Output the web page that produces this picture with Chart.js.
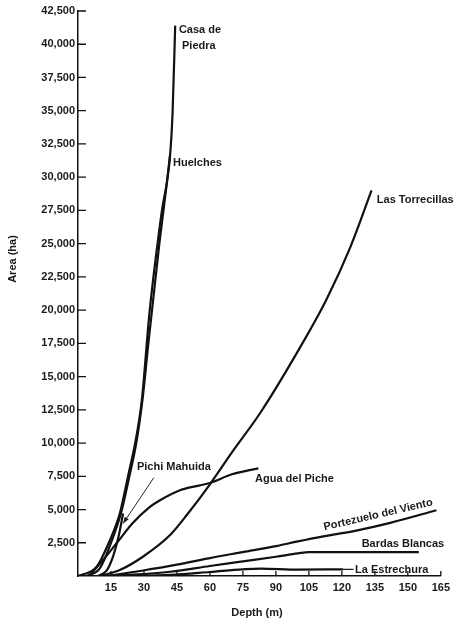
<!DOCTYPE html>
<html>
<head>
<meta charset="utf-8">
<script src="https://cdn.jsdelivr.net/npm/chart.js@4/dist/chart.umd.min.js"></script>
<style>
  html, body { margin: 0; padding: 0; background: #fff; }
  #wrap { width: 455px; height: 626px; }
</style>
</head>
<body>
<div id="wrap"><canvas id="areaChart"></canvas></div>
<script>
// Depth (m) vs area (ha)
const xTicks = [15, 30, 45, 60, 75, 90, 105, 120, 135, 150, 165];
const yTicks = [2500, 5000, 7500, 10000, 12500, 15000, 17500, 20000, 22500, 25000, 27500, 30000, 32500, 35000, 37500, 40000, 42500];

const casaDepth = [0, 8.5, 14.5, 19, 23, 26, 29, 32.5, 38, 41.8, 43, 44.2];
const casaArea  = [0, 700, 2700, 4700, 7700, 10000, 13200, 19800, 27300, 31500, 34800, 41400];

const huelchesDepth = [4, 10, 15, 19.5, 23.5, 26.5, 29.5, 32, 34, 37, 40, 41.8];
const huelchesArea  = [0, 600, 2500, 4700, 7600, 10000, 13500, 17500, 20500, 25000, 29000, 31600];

const pichiDepth = [9, 13, 16, 18.5, 20.5];
const pichiArea  = [0, 400, 1500, 3000, 4700];

const torreDepth = [10, 19, 29.5, 42, 50, 60, 70, 83, 101, 113, 124, 133.5];
const torreArea  = [0, 450, 1450, 3100, 4700, 6900, 9300, 12300, 17200, 20800, 24800, 29000];

const aguaDepth = [5, 11.4, 17.7, 25, 32.7, 37.3, 46.4, 55, 60, 70, 82];
const aguaArea  = [0, 1200, 2500, 4000, 5200, 5700, 6450, 6800, 7000, 7650, 8100];

const portezueloDepth = [14, 25, 40, 45, 60, 75, 90, 100, 111, 126, 142, 163];
const portezueloArea  = [0, 300, 700, 850, 1350, 1800, 2250, 2600, 2960, 3400, 4000, 4950];

const bardasDepth = [10, 25, 42, 60, 75, 90, 100, 105, 155];
const bardasArea  = [0, 100, 320, 750, 1100, 1450, 1700, 1800, 1800];

const estrechuraDepth = [20, 42, 60, 75, 83, 100, 120.5];
const estrechuraArea  = [0, 80, 300, 500, 560, 480, 500];

function pts(xs, ys) {
  return xs.map((x, i) => ({ x: x, y: ys[i] }));
}

const series = [
  pts(casaDepth, casaArea),
  pts(huelchesDepth, huelchesArea),
  pts(pichiDepth, pichiArea),
  pts(torreDepth, torreArea),
  pts(aguaDepth, aguaArea),
  pts(portezueloDepth, portezueloArea),
  pts(bardasDepth, bardasArea),
  pts(estrechuraDepth, estrechuraArea)
];

// curve names, placed in data units
const curveLabels = [
  { text: 'Casa de', x: 45.9, y: 41100 },
  { text: 'Piedra', x: 47.3, y: 39900 },
  { text: 'Huelches', x: 43.2, y: 31050 },
  { text: 'Las Torrecillas', x: 135.9, y: 28270 },
  { text: 'Agua del Piche', x: 80.5, y: 7290 },
  { text: 'Bardas Blancas', x: 129, y: 2430 },
  { text: 'La Estrechura', x: 126, y: 450 },
  { text: 'Pichi Mahuida', x: 26.8, y: 8200 }
];

const FAMILY = '"Liberation Sans", Arial, sans-serif';
const FONT = 'bold 11px ' + FAMILY;

const annotate = {
  id: 'annotate',
  afterDraw(chart) {
    const ctx = chart.ctx;
    const xs = chart.scales.x, ys = chart.scales.y;
    const area = chart.chartArea;
    ctx.save();
    ctx.strokeStyle = '#111';
    ctx.fillStyle = '#1a1a1a';

    // inside tick marks
    ctx.lineWidth = 1.3;
    ctx.beginPath();
    yTicks.forEach(v => {
      const py = ys.getPixelForValue(v);
      ctx.moveTo(area.left, py);
      ctx.lineTo(area.left + 8, py);
    });
    xTicks.forEach(v => {
      const px = xs.getPixelForValue(v);
      ctx.moveTo(px, area.bottom);
      ctx.lineTo(px, area.bottom - 5);
    });
    ctx.stroke();

    // labels
    ctx.font = FONT;
    ctx.textAlign = 'left';
    ctx.textBaseline = 'middle';
    curveLabels.forEach(l => {
      ctx.fillText(l.text, xs.getPixelForValue(l.x), ys.getPixelForValue(l.y));
    });

    // rotated label
    ctx.save();
    ctx.translate(xs.getPixelForValue(136.5), ys.getPixelForValue(4600));
    ctx.rotate(-13 * Math.PI / 180);
    ctx.textAlign = 'center';
    ctx.fillText('Portezuelo del Viento', 0, 0);
    ctx.restore();

    // connector to La Estrechura
    ctx.lineWidth = 1.2;
    ctx.beginPath();
    ctx.moveTo(xs.getPixelForValue(120.5), ys.getPixelForValue(500));
    ctx.lineTo(xs.getPixelForValue(125.3), ys.getPixelForValue(500));
    ctx.stroke();

    // Pichi Mahuida pointer
    const ax = xs.getPixelForValue(34.5), ay = ys.getPixelForValue(7400);
    const bx = xs.getPixelForValue(20.5), by = ys.getPixelForValue(3950);
    ctx.lineWidth = 0.9;
    ctx.beginPath();
    ctx.moveTo(ax, ay);
    ctx.lineTo(bx, by);
    ctx.stroke();
    const ang = Math.atan2(by - ay, bx - ax);
    ctx.beginPath();
    ctx.moveTo(bx, by);
    ctx.lineTo(bx - 7 * Math.cos(ang - 0.35), by - 7 * Math.sin(ang - 0.35));
    ctx.lineTo(bx - 7 * Math.cos(ang + 0.35), by - 7 * Math.sin(ang + 0.35));
    ctx.closePath();
    ctx.fill();

    // axis titles
    ctx.textAlign = 'center';
    ctx.fillText('Depth (m)', 257, 613);
    ctx.save();
    ctx.translate(13, 259);
    ctx.rotate(-Math.PI / 2);
    ctx.fillText('Area (ha)', 0, 0);
    ctx.restore();

    ctx.restore();
  }
};

new Chart(document.getElementById('areaChart'), {
  type: 'scatter',
  data: {
    datasets: series.map(d => ({
      data: d,
      showLine: true,
      borderColor: '#111',
      borderWidth: 2.2,
      pointRadius: 0,
      cubicInterpolationMode: 'monotone',
      fill: false
    }))
  },
  options: {
    responsive: true,
    maintainAspectRatio: false,
    animation: false,
    events: [],
    layout: { padding: { top: 11, right: 12, left: 0, bottom: 0 } },
    plugins: { legend: { display: false }, tooltip: { enabled: false } },
    scales: {
      x: {
        type: 'linear',
        min: 0,
        max: 165,
        afterFit: s => { s.height = 50; },
        afterBuildTicks: s => { s.ticks = xTicks.map(v => ({ value: v })); },
        grid: { display: false, drawTicks: false },
        border: { display: true, color: '#111', width: 1.5 },
        ticks: { color: '#1a1a1a', font: { family: FAMILY, size: 11, weight: 'bold' }, padding: 5, maxRotation: 0, autoSkip: false }
      },
      y: {
        type: 'linear',
        min: 0,
        max: 42500,
        afterFit: s => { s.width = 78; },
        afterBuildTicks: s => { s.ticks = yTicks.map(v => ({ value: v })); },
        grid: { display: false, drawTicks: false },
        border: { display: true, color: '#111', width: 1.5 },
        ticks: {
          color: '#1a1a1a',
          font: { family: FAMILY, size: 11, weight: 'bold' },
          padding: 3,
          autoSkip: false,
          callback: v => v.toLocaleString('en-US')
        }
      }
    }
  },
  plugins: [annotate]
});
</script>
</body>
</html>
